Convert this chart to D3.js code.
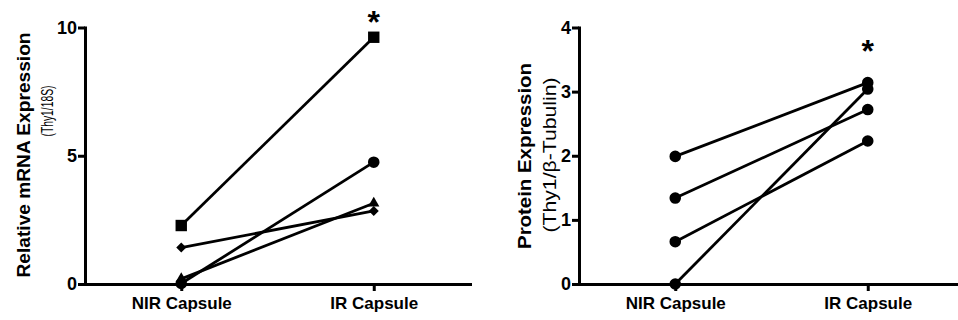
<!DOCTYPE html>
<html>
<head>
<meta charset="utf-8">
<script src="https://cdn.jsdelivr.net/npm/d3@7"></script>
<style>
  html, body { margin: 0; padding: 0; background: #fff; }
  svg { display: block; font-family: "Liberation Sans", Arial, sans-serif; }
  .axis path, .axis line { stroke: #000; stroke-width: 3; }
  .axis text { font-size: 18px; font-weight: bold; fill: #000; }
  .pair { fill: none; stroke: #000; stroke-width: 2.8; }
</style>
</head>
<body>
<div id="chart"></div>
<script>
// categories shared by both panels
const categories = ["NIR Capsule", "IR Capsule"];

// left panel: relative mRNA expression (Thy1/18S), one pair per animal
const mrnaSquare   = [2.28, 9.62];
const mrnaCircle   = [0.02, 4.75];
const mrnaTriangle = [0.20, 3.15];
const mrnaDiamond  = [1.42, 2.85];
const mrnaTicks    = [0, 5, 10];
const mrnaStar     = 10.45;   // level of the significance mark

// right panel: protein expression (Thy1/β-Tubulin)
const proteinA = [1.99, 3.14];
const proteinB = [1.34, 2.72];
const proteinC = [0.66, 2.23];
const proteinD = [0.00, 3.04];
const proteinTicks = [0, 1, 2, 3, 4];
const proteinStar  = 3.72;

const W = 958, H = 320;
const svg = d3.select("#chart").append("svg").attr("width", W).attr("height", H);

function panel(opt) {
  const x = d3.scalePoint().domain(categories).range([opt.x0, opt.x0 + 385]).padding(0.5);
  const y = d3.scaleLinear().domain(opt.domain).range([284, 27.5]);
  const g = svg.append("g");

  g.append("g").attr("class", "axis").attr("transform", "translate(0,284)")
    .call(d3.axisBottom(x).tickSize(7).tickSizeOuter(0).tickPadding(6))
    .call(a => a.selectAll("text").style("font-size", "17px"))
    .call(a => a.selectAll("path").attr("stroke-linecap", "square"));

  g.append("g").attr("class", "axis").attr("transform", `translate(${opt.x0},0)`)
    .call(d3.axisLeft(y).tickValues(opt.ticks).tickFormat(d3.format("d"))
      .tickSize(7).tickSizeOuter(0).tickPadding(1))
    .call(a => a.selectAll("path").attr("stroke-linecap", "square"));

  const line = d3.line().x((d, i) => x(categories[i])).y(d => y(d));
  opt.series.forEach(s => {
    g.append("path").attr("class", "pair").attr("d", line(s.values));
    const sym = d3.symbol().type(s.type).size(s.size);
    g.selectAll(null).data(s.values).join("path")
      .attr("d", sym)
      .attr("fill", "#000")
      .attr("transform", (d, i) => `translate(${x(categories[i])},${y(d)}) rotate(${s.rot || 0})`);
  });

  g.append("text")
    .attr("x", x(categories[1])).attr("y", y(opt.star) + 17)
    .attr("text-anchor", "middle")
    .attr("font-size", 32).attr("font-weight", "bold")
    .text("*");

  g.append("text")
    .attr("transform", `translate(${opt.labelX},${opt.labelY}) rotate(-90)`)
    .attr("text-anchor", "middle")
    .attr("font-size", 19).attr("font-weight", "bold")
    .attr("textLength", opt.labelLen).attr("lengthAdjust", "spacingAndGlyphs")
    .text(opt.title);

  g.append("text")
    .attr("transform", `translate(${opt.subX},${opt.subY}) rotate(-90)`)
    .attr("text-anchor", "middle")
    .attr("font-size", opt.subSize)
    .attr("textLength", opt.subLen).attr("lengthAdjust", "spacingAndGlyphs")
    .text(opt.sub);
}

panel({
  x0: 85, domain: [0, 10], ticks: mrnaTicks, star: mrnaStar,
  labelX: 30, labelY: 155, labelLen: 245,
  subX: 53, subY: 111, subLen: 51, subSize: 16,
  title: "Relative mRNA Expression", sub: "(Thy1/18S)",
  series: [
    { values: mrnaSquare, type: d3.symbolSquare, size: 130 },
    { values: mrnaCircle, type: d3.symbolCircle, size: 105 },
    { values: mrnaTriangle, type: d3.symbolTriangle, size: 55 },
    { values: mrnaDiamond, type: d3.symbolSquare, size: 50, rot: 45 }
  ]
});

panel({
  x0: 579, domain: [0, 4], ticks: proteinTicks, star: proteinStar,
  labelX: 531, labelY: 156, labelLen: 186,
  subX: 556, subY: 155, subLen: 155, subSize: 18,
  title: "Protein Expression", sub: "(Thy1/β-Tubulin)",
  series: [
    { values: proteinA, type: d3.symbolCircle, size: 105 },
    { values: proteinB, type: d3.symbolCircle, size: 105 },
    { values: proteinC, type: d3.symbolCircle, size: 105 },
    { values: proteinD, type: d3.symbolCircle, size: 105 }
  ]
});
</script>
</body>
</html>
